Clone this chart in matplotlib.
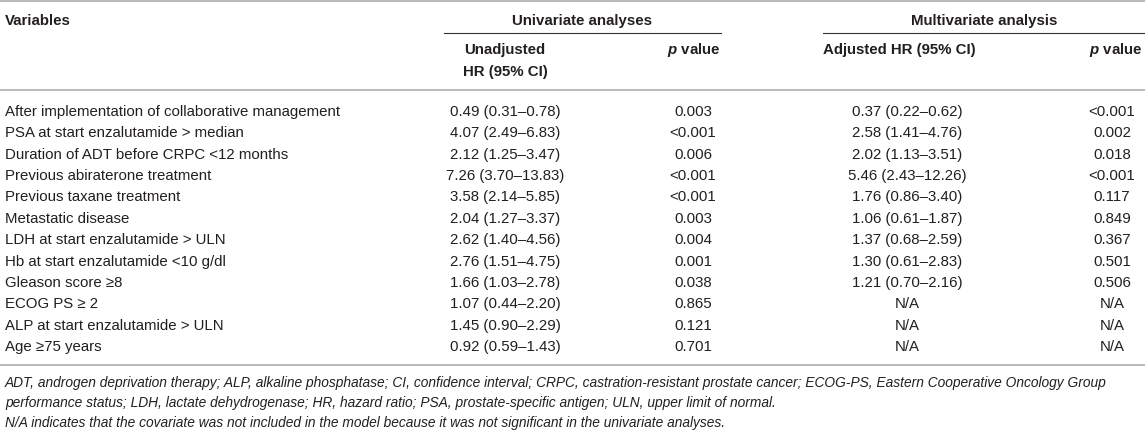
import matplotlib
matplotlib.use("Agg")
from matplotlib import pyplot as plt

plt.rcParams['font.family'] = ['Liberation Sans', 'DejaVu Sans']
plt.rcParams['mathtext.fontset'] = 'custom'
plt.rcParams['mathtext.bfit'] = 'Liberation Sans:italic:bold'

variables = [
    "After implementation of collaborative management",
    "PSA at start enzalutamide > median",
    "Duration of ADT before CRPC <12 months",
    "Previous abiraterone treatment",
    "Previous taxane treatment",
    "Metastatic disease",
    "LDH at start enzalutamide > ULN",
    "Hb at start enzalutamide <10 g/dl",
    "Gleason score \u22658",
    "ECOG PS \u2265 2",
    "ALP at start enzalutamide > ULN",
    "Age \u226575 years",
]
uni_hr = [
    "0.49 (0.31\u20130.78)", "4.07 (2.49\u20136.83)", "2.12 (1.25\u20133.47)",
    "7.26 (3.70\u201313.83)", "3.58 (2.14\u20135.85)", "2.04 (1.27\u20133.37)",
    "2.62 (1.40\u20134.56)", "2.76 (1.51\u20134.75)", "1.66 (1.03\u20132.78)",
    "1.07 (0.44\u20132.20)", "1.45 (0.90\u20132.29)", "0.92 (0.59\u20131.43)",
]
uni_p = ["0.003", "<0.001", "0.006", "<0.001", "<0.001", "0.003",
         "0.004", "0.001", "0.038", "0.865", "0.121", "0.701"]
multi_hr = [
    "0.37 (0.22\u20130.62)", "2.58 (1.41\u20134.76)", "2.02 (1.13\u20133.51)",
    "5.46 (2.43\u201312.26)", "1.76 (0.86\u20133.40)", "1.06 (0.61\u20131.87)",
    "1.37 (0.68\u20132.59)", "1.30 (0.61\u20132.83)", "1.21 (0.70\u20132.16)",
    "N/A", "N/A", "N/A",
]
multi_p = ["<0.001", "0.002", "0.018", "<0.001", "0.117", "0.849",
           "0.367", "0.501", "0.506", "N/A", "N/A", "N/A"]

footnotes = [
    "ADT, androgen deprivation therapy; ALP, alkaline phosphatase; CI, confidence interval; "
    "CRPC, castration-resistant prostate cancer; ECOG-PS, Eastern Cooperative Oncology Group",
    "performance status; LDH, lactate dehydrogenase; HR, hazard ratio; PSA, prostate-specific antigen; "
    "ULN, upper limit of normal.",
    "N/A indicates that the covariate was not included in the model because it was not "
    "significant in the univariate analyses.",
]

W, H = 1145, 432
fig = plt.figure(figsize=(W / 100, H / 100), dpi=100)
ax = fig.add_axes([0, 0, 1, 1])
ax.set_xlim(0, W)
ax.set_ylim(H, 0)
ax.axis('off')

txt = '#231f20'
fs = 10.8
gray = '#b4b4b4'

# rules
ax.plot([0, W], [1, 1], color=gray, lw=1.3)
ax.plot([0, W], [90, 90], color=gray, lw=1.3)
ax.plot([0, W], [365, 365], color=gray, lw=1.3)
ax.plot([444, 721], [33, 33], color='#333333', lw=0.8)
ax.plot([823, W], [33, 33], color='#333333', lw=0.8)

# header
hd = dict(fontsize=fs, fontweight='bold', color=txt, va='center')
ax.text(5, 21, "Variables", ha='left', **hd)
ax.text(582, 21, "Univariate analyses", ha='center', **hd)
ax.text(984, 21, "Multivariate analysis", ha='center', **hd)
ax.text(505, 50, "Unadjusted", ha='center', **hd)
ax.text(505, 72, "HR (95% CI)", ha='center', **hd)
ax.text(721, 50, r"$\mathbfit{p}$ value", ha='right', **hd)
ax.text(823, 50, "Adjusted HR (95% CI)", ha='left', **hd)
ax.text(1143, 50, r"$\mathbfit{p}$ value", ha='right', **hd)

# body
bd = dict(fontsize=fs, color=txt, va='center')
y0, dy = 112, 21.36
for i in range(len(variables)):
    y = y0 + i * dy
    ax.text(5, y, variables[i], ha='left', **bd)
    ax.text(505, y, uni_hr[i], ha='center', **bd)
    ax.text(693, y, uni_p[i], ha='center', **bd)
    ax.text(907, y, multi_hr[i], ha='center', **bd)
    ax.text(1112, y, multi_p[i], ha='center', **bd)

# footnotes
for i, line in enumerate(footnotes):
    ax.text(5, 383 + i * 20, line, ha='left', va='center', fontsize=9.9,
            fontstyle='italic', color=txt)

fig.savefig("out.png", dpi=100)
